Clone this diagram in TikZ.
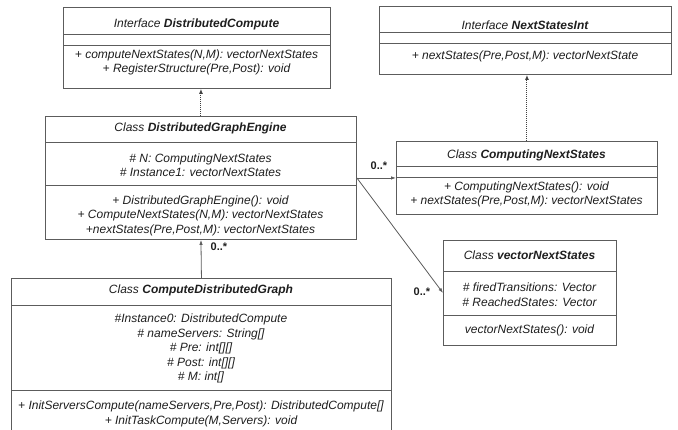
\documentclass[tikz,border=0pt]{standalone}
\usepackage{fontspec}
\setmainfont{Liberation Sans}
\usetikzlibrary{arrows.meta}
\definecolor{Line}{HTML}{5C5C5C}
\definecolor{Ink}{HTML}{1E1E1E}

\begin{document}
\begin{tikzpicture}[
  x=1pt,y=-1pt,
  umlbox/.style={draw=Line,line width=0.9pt,anchor=north west,inner sep=0pt},
  member/.style={font=\fontsize{12}{14.5}\selectfont\itshape,text=Ink,align=center,inner sep=0pt},
  mult/.style={font=\fontsize{11}{13}\selectfont\bfseries,text=Ink,inner sep=0pt},
  realize/.style={-{Latex[length=5pt,width=4pt]},densely dotted,line width=1pt,draw=Ink!85},
  assoc/.style={-{Latex[length=5pt,width=3.5pt]},line width=0.8pt,draw=Line}
]
\useasboundingbox (0,0) rectangle (678,429);
\clip (0,0) rectangle (678,429);

% interfaces
\node[umlbox,minimum width=267pt,minimum height=81pt] (dcomp) at (63,7) {};
\draw[Line,line width=0.9pt] (dcomp.west |- 0,34) -- (dcomp.east |- 0,34)
  (dcomp.west |- 0,45) -- (dcomp.east |- 0,45);
\node[member] (dcompname) at (196.5,24) {Interface \textbf{DistributedCompute}};
\node[member] (dcompops) at (196.5,62.5) {+ computeNextStates(N,M): vectorNextStates\\+ RegisterStructure(Pre,Post): void};

\node[umlbox,minimum width=292pt,minimum height=68pt] (nsint) at (379,6) {};
\draw[Line,line width=0.9pt] (nsint.west |- 0,32) -- (nsint.east |- 0,32)
  (nsint.west |- 0,43) -- (nsint.east |- 0,43);
\node[member] (nsintname) at (525,25) {Interface \textbf{NextStatesInt}};
\node[member] (nsintops) at (525,56) {+ nextStates(Pre,Post,M): vectorNextState};

% classes
\node[umlbox,minimum width=311pt,minimum height=123pt] (engine) at (45,116) {};
\draw[Line,line width=0.9pt] (engine.west |- 0,142) -- (engine.east |- 0,142)
  (engine.west |- 0,185) -- (engine.east |- 0,185);
\node[member] (enginename) at (200.5,128) {Class \textbf{DistributedGraphEngine}};
\node[member] (engineattr) at (200.5,165) {\# N: ComputingNextStates\\\# Instance1: vectorNextStates};
\node[member] (engineops) at (200.5,215.5) {+ DistributedGraphEngine(): void\\+ ComputeNextStates(N,M): vectorNextStates\\+nextStates(Pre,Post,M): vectorNextStates};

\node[umlbox,minimum width=261pt,minimum height=73pt] (cnstates) at (396,141) {};
\draw[Line,line width=0.9pt] (cnstates.west |- 0,166) -- (cnstates.east |- 0,166)
  (cnstates.west |- 0,177) -- (cnstates.east |- 0,177);
\node[member] (cnstatesname) at (526.5,155) {Class \textbf{ComputingNextStates}};
\node[member] (cnstatesops) at (526.5,194.5) {+ ComputingNextStates(): void\\+ nextStates(Pre,Post,M): vectorNextStates};

\node[umlbox,minimum width=173pt,minimum height=105pt] (vnstates) at (443,240) {};
\draw[Line,line width=0.9pt] (vnstates.west |- 0,271) -- (vnstates.east |- 0,271)
  (vnstates.west |- 0,315) -- (vnstates.east |- 0,315);
\node[member] (vnstatesname) at (529.5,255) {Class \textbf{vectorNextStates}};
\node[member] (vnstatesattr) at (529.5,294.5) {\# firedTransitions: Vector\\\# ReachedStates: Vector};
\node[member] (vnstatesops) at (529.5,330) {vectorNextStates(): void};

\node[umlbox,minimum width=380pt,minimum height=170pt] (cdgraph) at (11,278) {};
\draw[Line,line width=0.9pt] (cdgraph.west |- 0,305) -- (cdgraph.east |- 0,305)
  (cdgraph.west |- 0,390) -- (cdgraph.east |- 0,390);
\node[member] (cdgraphname) at (201,290) {Class \textbf{ComputeDistributedGraph}};
\node[member] (cdgraphattr) at (201,348.5) {\#Instance0: DistributedCompute\\\# nameServers: String[]\\\# Pre: int[][]\\\# Post: int[][]\\\# M: int[]};
\node[member] (cdgraphops) at (201,414) {+ InitServersCompute(nameServers,Pre,Post): DistributedCompute[]\\+ InitTaskCompute(M,Servers): void};

% realizations
\draw[realize] (engine.north) -- (engine.north |- dcomp.south);
\draw[realize] (cnstates.north) -- (cnstates.north |- nsint.south);

% associations
\coordinate (fork) at (engine.east |- cnstates.west);
\draw[assoc] (cdgraph.north) -- (engine.south);
\draw[assoc] (fork) -- (cnstates.west);
\draw[assoc] (fork) -- (vnstates.west);
\node[mult] (multcns) at (379,166) {0..*};
\node[mult] (multvns) at (422,292) {0..*};
\node[mult] (multeng) at (219,247) {0..*};
\end{tikzpicture}
\end{document}
